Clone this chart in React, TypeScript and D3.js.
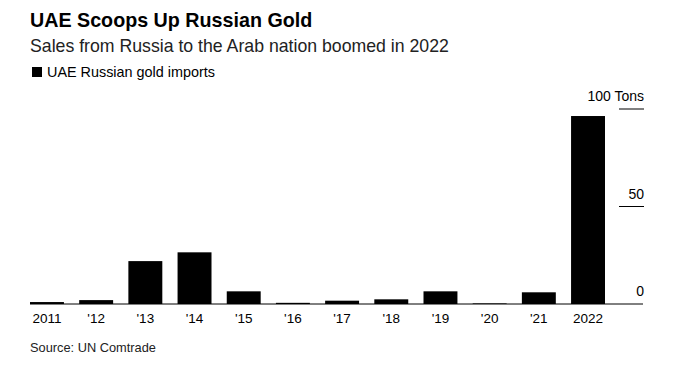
import React, { useEffect, useRef } from "react";
import * as d3 from "d3";

const years = ["2011", "'12", "'13", "'14", "'15", "'16", "'17", "'18", "'19", "'20", "'21", "2022"];
const tons = [1, 2, 22, 26.5, 6.5, 0.6, 1.7, 2.4, 6.5, 0.3, 6, 96.4];
const yTicks = [0, 50, 100];

const App = () => {
  const svgRef = useRef<SVGSVGElement | null>(null);
  const w = 683;
  const h = 366;
  const font = "'Liberation Sans', Arial, sans-serif";

  useEffect(() => {
    const svg = d3.select(svgRef.current);
    svg.selectAll("*").remove();

    const x = d3.scaleBand().domain(years).range([30, 605]).paddingInner(0.31).paddingOuter(0);
    const y = d3.scaleLinear().domain([0, 100]).range([304, 109]);

    // titles
    svg.append("text").attr("x", 30).attr("y", 27)
      .style("font-family", font).style("font-weight", "bold").style("font-size", "19.7px")
      .attr("fill", "#000").text("UAE Scoops Up Russian Gold");
    svg.append("text").attr("x", 30).attr("y", 52)
      .style("font-family", font).style("font-size", "17.7px")
      .attr("fill", "#222").text("Sales from Russia to the Arab nation boomed in 2022");

    // legend
    svg.append("rect").attr("x", 32).attr("y", 67).attr("width", 10).attr("height", 10).attr("fill", "#000");
    svg.append("text").attr("x", 47).attr("y", 77)
      .style("font-family", font).style("font-size", "14.4px")
      .attr("fill", "#000").text("UAE Russian gold imports");

    // bars
    svg.selectAll(".bar").data(years).enter().append("rect")
      .attr("class", "bar")
      .attr("x", (d) => x(d)!)
      .attr("y", (d, i) => y(tons[i]))
      .attr("width", x.bandwidth())
      .attr("height", (d, i) => y(0) - y(tons[i]))
      .attr("fill", "#000");

    // baseline
    svg.append("line").attr("x1", 30).attr("x2", 643).attr("y1", y(0)).attr("y2", y(0))
      .attr("stroke", "#000").attr("stroke-width", 1);

    // y ticks on right
    yTicks.forEach((t) => {
      if (t > 0) {
        svg.append("line").attr("x1", 619).attr("x2", 644).attr("y1", y(t)).attr("y2", y(t))
          .attr("stroke", "#000").attr("stroke-width", 1);
      }
      svg.append("text").attr("x", 644).attr("y", y(t) - 8)
        .attr("text-anchor", "end")
        .style("font-family", font).style("font-size", "14px")
        .attr("fill", "#000").text(t === 100 ? "100 Tons" : String(t));
    });

    // x labels
    svg.selectAll(".xl").data(years).enter().append("text")
      .attr("class", "xl")
      .attr("x", (d) => x(d)! + x.bandwidth() / 2)
      .attr("y", 323)
      .attr("text-anchor", "middle")
      .style("font-family", font).style("font-size", "13.5px")
      .attr("fill", "#000").text((d) => d);

    svg.append("text").attr("x", 30).attr("y", 352)
      .style("font-family", font).style("font-size", "12.8px")
      .attr("fill", "#222").text("Source: UN Comtrade");
  }, []);

  return (
    <svg ref={svgRef} width={w} height={h}
      style={{ position: "absolute", left: 0, top: 0, background: "#fff" }} />
  );
};

export default App;
